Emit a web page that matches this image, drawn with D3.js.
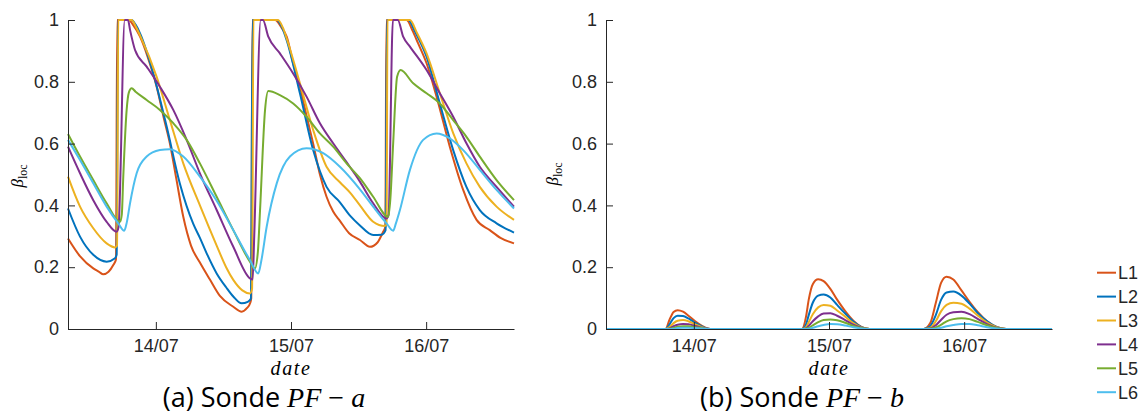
<!DOCTYPE html>
<html>
<head>
<meta charset="utf-8">
<script src="https://cdn.jsdelivr.net/npm/d3@7"></script>
<style>
  html, body { margin: 0; padding: 0; background: #fff; }
  svg { display: block; }
</style>
</head>
<body>
<script>
// ---------------- DATA ----------------
const seriesNames = ["L1", "L2", "L3", "L4", "L5", "L6"];
const seriesColors = ["#D95319", "#0072BD", "#EDB120", "#7E2F8E", "#77AC30", "#4DBEEE"];
const tickDays = [14, 15, 16];
const tickLabels = ["14/07", "15/07", "16/07"];
const yTicks = [0, 0.2, 0.4, 0.6, 0.8, 1];
const yTickLabels = ["0", "0.2", "0.4", "0.6", "0.8", "1"];
const dayDomain = [13.35, 16.65];

// Panel (a) : [day, beta_loc]
const L1a = [[13.35,0.293],[13.44,0.235],[13.537,0.196],[13.58,0.185],[13.611,0.177],[13.65,0.185],[13.685,0.207],[13.705,0.225],[13.714,1],[13.80,1],[13.83,0.985],[13.883,0.946],[13.94,0.88],[14.006,0.784],[14.06,0.68],[14.104,0.60],[14.15,0.49],[14.203,0.363],[14.26,0.27],[14.326,0.215],[14.40,0.16],[14.474,0.107],[14.573,0.072],[14.635,0.056],[14.675,0.068],[14.698,0.084],[14.706,0.1],[14.714,1],[14.882,1],[14.93,0.975],[14.968,0.946],[15.016,0.86],[15.066,0.784],[15.115,0.69],[15.164,0.60],[15.214,0.50],[15.263,0.428],[15.312,0.38],[15.362,0.35],[15.43,0.31],[15.51,0.288],[15.584,0.266],[15.64,0.28],[15.682,0.315],[15.698,0.33],[15.706,1],[15.855,1],[15.90,0.965],[15.94,0.925],[16.003,0.86],[16.077,0.752],[16.175,0.59],[16.274,0.45],[16.373,0.353],[16.471,0.32],[16.55,0.295],[16.65,0.277]];
const L2a = [[13.35,0.39],[13.439,0.299],[13.537,0.24],[13.636,0.218],[13.698,0.229],[13.710,0.24],[13.72,1],[13.821,1],[13.85,0.985],[13.883,0.957],[13.981,0.827],[14.080,0.655],[14.178,0.47],[14.277,0.34],[14.326,0.295],[14.376,0.245],[14.45,0.18],[14.52,0.135],[14.573,0.105],[14.635,0.083],[14.68,0.088],[14.703,0.098],[14.716,1],[14.895,1],[14.93,0.98],[14.968,0.935],[15.066,0.763],[15.164,0.579],[15.263,0.46],[15.362,0.41],[15.44,0.365],[15.51,0.335],[15.608,0.304],[15.67,0.305],[15.700,0.32],[15.710,1],[15.867,1],[15.92,0.96],[16.003,0.881],[16.101,0.73],[16.200,0.579],[16.298,0.46],[16.397,0.385],[16.521,0.342],[16.65,0.312]];
const L3a = [[13.35,0.493],[13.439,0.396],[13.537,0.326],[13.636,0.277],[13.698,0.264],[13.713,0.27],[13.722,1],[13.821,1],[13.85,0.98],[13.883,0.95],[14.006,0.816],[14.104,0.676],[14.203,0.536],[14.326,0.40],[14.45,0.27],[14.52,0.2],[14.573,0.159],[14.64,0.125],[14.696,0.115],[14.712,0.13],[14.722,1],[14.904,1],[14.94,0.975],[14.968,0.94],[15.066,0.795],[15.164,0.644],[15.263,0.525],[15.362,0.475],[15.44,0.44],[15.51,0.40],[15.608,0.347],[15.695,0.333],[15.707,0.34],[15.714,1],[15.88,1],[15.93,0.96],[16.003,0.892],[16.101,0.763],[16.200,0.634],[16.298,0.536],[16.397,0.46],[16.521,0.396],[16.65,0.353]];
const L4a = [[13.35,0.59],[13.439,0.504],[13.537,0.417],[13.636,0.347],[13.710,0.315],[13.724,0.33],[13.77,1],[13.794,1],[13.809,0.968],[13.846,0.903],[13.932,0.849],[14.030,0.784],[14.129,0.709],[14.228,0.612],[14.326,0.504],[14.45,0.385],[14.573,0.266],[14.696,0.164],[14.716,0.16],[14.728,0.3],[14.776,1],[14.792,1],[14.832,0.946],[14.918,0.892],[15.016,0.827],[15.115,0.752],[15.214,0.666],[15.312,0.601],[15.411,0.54],[15.51,0.477],[15.608,0.407],[15.707,0.358],[15.722,0.37],[15.754,1],[15.79,1],[15.83,0.946],[15.88,0.914],[16.003,0.838],[16.101,0.763],[16.200,0.687],[16.298,0.601],[16.397,0.525],[16.521,0.46],[16.65,0.396]];
const L5a = [[13.35,0.631],[13.439,0.558],[13.537,0.482],[13.636,0.407],[13.735,0.347],[13.748,0.37],[13.759,0.493],[13.784,0.709],[13.80,0.765],[13.821,0.779],[13.85,0.768],[13.932,0.741],[14.030,0.709],[14.129,0.666],[14.228,0.612],[14.326,0.536],[14.45,0.428],[14.573,0.32],[14.696,0.218],[14.733,0.196],[14.755,0.25],[14.771,0.385],[14.808,0.709],[14.832,0.77],[14.918,0.757],[15.016,0.73],[15.115,0.687],[15.214,0.633],[15.312,0.59],[15.411,0.536],[15.51,0.488],[15.608,0.428],[15.719,0.363],[15.735,0.42],[15.756,0.601],[15.785,0.816],[15.811,0.838],[15.904,0.795],[16.003,0.763],[16.101,0.73],[16.200,0.676],[16.298,0.622],[16.397,0.558],[16.521,0.482],[16.65,0.417]];
const L6a = [[13.35,0.612],[13.439,0.547],[13.537,0.472],[13.636,0.396],[13.722,0.342],[13.766,0.318],[13.785,0.345],[13.809,0.407],[13.858,0.504],[13.932,0.558],[14.030,0.579],[14.104,0.582],[14.203,0.558],[14.326,0.493],[14.45,0.415],[14.573,0.32],[14.696,0.223],[14.758,0.18],[14.78,0.22],[14.820,0.331],[14.895,0.472],[14.992,0.558],[15.115,0.585],[15.238,0.569],[15.362,0.525],[15.51,0.452],[15.608,0.396],[15.707,0.342],[15.756,0.318],[15.775,0.34],[15.806,0.385],[15.880,0.515],[15.978,0.612],[16.077,0.633],[16.175,0.617],[16.274,0.579],[16.397,0.515],[16.521,0.45],[16.65,0.39]];

// Panel (b) : shared time axis (days) and values per series
const tB = [13.35,
  13.79,13.82,13.85,13.88,13.92,13.96,14.01,14.06,14.12,
  14.80,14.83,14.85,14.88,14.92,14.96,15.01,15.06,15.12,15.18,15.24,15.30,
  15.70,15.75,15.79,15.83,15.87,15.92,15.98,16.04,16.10,16.17,16.24,16.31,
  16.65];
const L1b = [0, 0,0.03,0.055,0.061,0.056,0.043,0.025,0.01,0, 0,0.04,0.095,0.145,0.161,0.155,0.13,0.095,0.058,0.027,0.007,0, 0,0.02,0.084,0.15,0.169,0.16,0.125,0.088,0.055,0.025,0.007,0, 0];
const L2b = [0, 0,0.015,0.035,0.043,0.042,0.034,0.02,0.008,0, 0,0.015,0.045,0.085,0.108,0.112,0.102,0.078,0.05,0.024,0.006,0, 0,0.01,0.045,0.095,0.118,0.121,0.108,0.082,0.052,0.025,0.007,0, 0];
const L3b = [0, 0,0.006,0.019,0.027,0.029,0.025,0.015,0.006,0, 0,0.006,0.022,0.048,0.07,0.078,0.075,0.06,0.04,0.019,0.005,0, 0,0.004,0.025,0.058,0.078,0.085,0.082,0.066,0.044,0.021,0.006,0, 0];
const L4b = [0, 0,0.002,0.009,0.014,0.016,0.015,0.01,0.004,0, 0,0.002,0.01,0.025,0.041,0.05,0.051,0.043,0.029,0.014,0.004,0, 0,0.002,0.012,0.03,0.046,0.054,0.056,0.048,0.033,0.016,0.004,0, 0];
const L5b = [0, 0,0.001,0.004,0.007,0.009,0.009,0.006,0.003,0, 0,0.001,0.004,0.012,0.022,0.029,0.031,0.028,0.02,0.01,0.003,0, 0,0.001,0.005,0.014,0.025,0.032,0.035,0.032,0.023,0.012,0.003,0, 0];
const L6b = [0, 0,0,0.001,0.003,0.004,0.004,0.003,0.002,0, 0,0,0.001,0.004,0.009,0.013,0.016,0.015,0.011,0.006,0.002,0, 0,0,0.001,0.004,0.009,0.013,0.016,0.016,0.012,0.006,0.002,0, 0];

// ---------------- DRAWING ----------------
const W = 1141, H = 414;
const svg = d3.select("body").append("svg").attr("width", W).attr("height", H);
const axisColor = "#262626";
const tickFont = "'Liberation Sans', Arial, sans-serif";

const y = d3.scaleLinear().domain([0, 1]).range([329, 20]);

function drawPanel(opts) {
  const x = d3.scaleLinear().domain(dayDomain).range(opts.xRange);
  const g = svg.append("g");

  const line = d3.line()
    .x(d => x(d[0])).y(d => y(d[1]))
    .curve(d3.curveMonotoneX);

  opts.series.forEach((s, i) => {
    g.append("path")
      .datum(s)
      .attr("d", line)
      .attr("fill", "none")
      .attr("stroke", seriesColors[i])
      .attr("stroke-width", 2)
      .attr("stroke-linejoin", "round");
  });

  // y axis
  const yAxis = d3.axisLeft(y)
    .tickValues(yTicks)
    .tickFormat((d, i) => yTickLabels[i])
    .tickSizeInner(-7).tickSizeOuter(0).tickPadding(9);
  const gy = g.append("g").attr("transform", `translate(${opts.xRange[0]},0)`).call(yAxis);

  // x axis
  const xAxis = d3.axisBottom(x)
    .tickValues(tickDays)
    .tickFormat((d, i) => tickLabels[i])
    .tickSizeInner(-7).tickSizeOuter(0).tickPadding(10);
  const gx = g.append("g").attr("transform", `translate(0,329)`).call(xAxis);

  [gx, gy].forEach(a => {
    a.select(".domain").attr("stroke", axisColor).attr("stroke-width", 1);
    a.selectAll(".tick line").attr("stroke", axisColor).attr("stroke-width", 1);
    a.selectAll(".tick text").attr("fill", axisColor)
      .style("font-family", tickFont).style("font-size", "18px");
  });

  // x label
  const cx = (opts.xRange[0] + opts.xRange[1]) / 2;
  g.append("text")
    .attr("x", cx).attr("y", 375)
    .attr("text-anchor", "middle")
    .style("font-family", "'Liberation Serif', 'Times New Roman', serif")
    .style("font-style", "italic")
    .style("font-size", "20px")
    .style("letter-spacing", "1.6px")
    .attr("fill", "#000")
    .text("date");

  // y label
  const yl = g.append("text")
    .attr("transform", `translate(${opts.ylabelX},${opts.ylabelY}) rotate(-90)`)
    .attr("text-anchor", "middle")
    .attr("fill", "#000")
    .style("font-family", "'Liberation Serif', 'Times New Roman', serif");
  yl.append("tspan").style("font-style", "italic").style("font-size", "17px").text("β");
  yl.append("tspan").attr("dy", 4).style("font-size", "12px").text("loc");

  // caption
  const cap = g.append("text")
    .attr("x", opts.capX).attr("y", 407)
    .attr("text-anchor", "middle")
    .attr("fill", "#000");
  cap.append("tspan").style("font-family", "'Open Sans', 'Noto Sans', sans-serif").style("font-size", "27px")
    .text(opts.capPrefix);
  cap.append("tspan").style("font-family", "'Liberation Serif', serif").style("font-style", "italic").style("font-size", "28px")
    .text("PF");
  cap.append("tspan").style("font-family", "'Liberation Serif', serif").style("font-size", "28px")
    .text(" \u2212 ");
  cap.append("tspan").style("font-family", "'Liberation Serif', serif").style("font-style", "italic").style("font-size", "28px")
    .text(opts.capSuffix);
}

drawPanel({
  xRange: [68, 514],
  series: [L1a, L2a, L3a, L4a, L5a, L6a],
  ylabelX: 23, ylabelY: 176,
  capX: 264, capPrefix: "(a) Sonde ", capSuffix: "a"
});

const panelBSeries = [L1b, L2b, L3b, L4b, L5b, L6b].map(vals => tB.map((t, i) => [t, vals[i]]));
drawPanel({
  xRange: [606, 1052],
  series: panelBSeries,
  ylabelX: 558, ylabelY: 174,
  capX: 802, capPrefix: "(b) Sonde ", capSuffix: "b"
});

// legend
const legend = svg.append("g");
seriesNames.forEach((name, i) => {
  const ly = 272.7 + i * 23.9;
  legend.append("line")
    .attr("x1", 1097).attr("x2", 1116).attr("y1", ly).attr("y2", ly)
    .attr("stroke", seriesColors[i]).attr("stroke-width", 2);
  legend.append("text")
    .attr("x", 1118).attr("y", ly).attr("dy", "0.35em")
    .style("font-family", tickFont).style("font-size", "18px")
    .attr("fill", axisColor)
    .text(name);
});
</script>
</body>
</html>
